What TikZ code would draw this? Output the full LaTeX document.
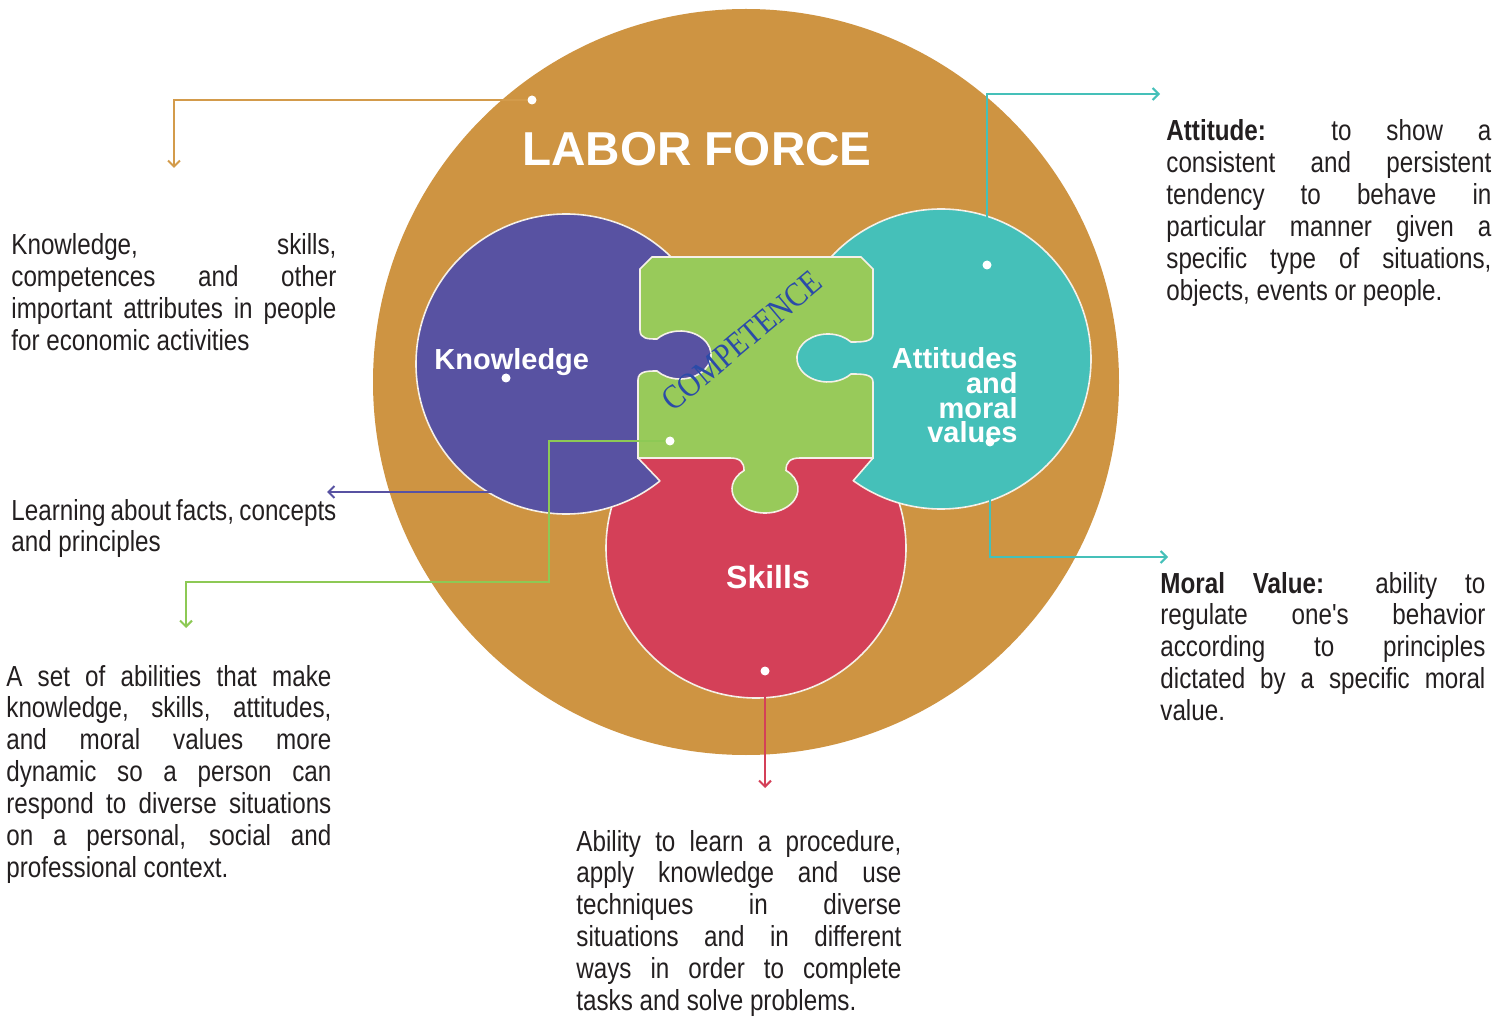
\documentclass[tikz,border=0pt]{standalone}
\usepackage{fontspec}
\setmainfont{Liberation Sans}
\newfontfamily\narrowsans{Liberation Sans}[FakeStretch=0.835]
\newfontfamily\timesfont{Liberation Serif}[FakeStretch=0.87]
\usetikzlibrary{arrows.meta}
\definecolor{laborcol}{RGB}{206,148,66}
\definecolor{laborline}{RGB}{211,155,75}
\definecolor{knowcol}{RGB}{88,82,162}
\definecolor{attcol}{RGB}{69,192,185}
\definecolor{skillcol}{RGB}{212,64,88}
\definecolor{compcol}{RGB}{152,202,90}
\definecolor{compline}{RGB}{141,201,85}
\definecolor{compblue}{RGB}{43,75,168}
\definecolor{rimwhite}{RGB}{245,240,232}
\definecolor{textdark}{RGB}{35,31,32}
\tolerance=10000
\hbadness=10000
\hyphenpenalty=10000
\tikzset{
  rim/.style={draw=rimwhite, line width=0.8pt},
  dot/.style={circle, fill=white, inner sep=0pt, minimum size=4.5pt},
  piecetext/.style={text=white, inner sep=0pt},
  note/.style={anchor=base west, inner sep=0pt, text width=162.5pt, align=justify,
    text=textdark, font=\narrowsans\fontsize{14.5}{15.95}\selectfont},
  link/.style={line width=1pt, -{Straight Barb[length=3pt,width=6pt]}},
}

\begin{document}
\begin{tikzpicture}[x=0.5pt,y=-0.5pt]
\useasboundingbox (0,0) rectangle (1510,1021);
\fill[laborcol] (746,382) circle[radius=373];
\filldraw[fill=skillcol,rim] (756,548) circle[radius=150];
\filldraw[fill=knowcol,rim] (566,364) circle[radius=150];
\filldraw[fill=attcol,rim] (941,359) circle[radius=150];
\fill[skillcol] (638,458) -- (660,481) -- (756,548) -- (853,481) -- (873,458) -- cycle;
\draw[rim] (638,458) -- (660,481) (853,481) -- (873,458);
\filldraw[fill=compcol,rim] (652,257) -- (861,257) -- (873,269) -- (873,334)
  .. controls (873,342) and (862,342) .. (851,342)
  arc[start angle=318.2,end angle=41.8,x radius=31,y radius=24]
  .. controls (862,374) and (873,374) .. (873,382) -- (873,458) -- (800,458)
  .. controls (790,458) and (786,462) .. (786,470.5)
  arc[start angle=309.5,end angle=590.5,x radius=33,y radius=24]
  .. controls (744,462) and (740,458) .. (730,458) -- (638,458) -- (638,380)
  .. controls (638,371) and (648,371) .. (657,371)
  arc[start angle=138.2,end angle=-138.2,x radius=31,y radius=24]
  .. controls (648,339) and (640,339) .. (640,330) -- (640,269) -- cycle;

\node[piecetext, anchor=base, font=\bfseries\fontsize{23.8}{24}\selectfont] (T) at (697,166) {LABOR FORCE};
\node[piecetext, anchor=base west, font=\bfseries\fontsize{14.5}{15}\selectfont] (K) at (434,370) {Knowledge};
\node[piecetext, anchor=base, font=\bfseries\fontsize{16}{16}\selectfont] (S) at (768,588) {Skills};
\node[piecetext, align=right, anchor=north east, font=\bfseries\fontsize{14.5}{12.4}\selectfont] (A) at (1018,347) {Attitudes\\and\\moral\\values};
\node[rotate=40, inner sep=0pt, text=compblue, font=\timesfont\fontsize{17}{17}\selectfont] (C) at (742,341) {COMPETENCE};

\node[dot] (D0) at (532,100) {};
\node[dot] (D1) at (506,378) {};
\node[dot] (D2) at (987,265) {};
\node[dot] (D3) at (670,441) {};
\node[dot] (D4) at (990,442) {};
\node[dot] (D5) at (765,671) {};
\coordinate (E0) at (174,168);
\coordinate (E1) at (327,492);
\coordinate (E2) at (1160,94);
\coordinate (B3) at (549,582);
\coordinate (E3) at (186,628);
\coordinate (E4) at (1168,557);
\coordinate (E5) at (765,788);
\draw[link, laborline] (D0) -| (E0);
\draw[link, knowcol] (D1) |- (E1);
\draw[link, attcol] (D2) |- (E2);
\draw[link, compline] (D3) -| (B3) -| (E3);
\draw[link, attcol] (D4) |- (E4);
\draw[link, skillcol] (D5) -- (E5);

\node[note] (N0) at (11,255) {Knowledge, skills,\linebreak competences and other\linebreak important attributes in people\linebreak for economic activities};
\node[note] (N1) at (11,520) {Learning about facts, concepts\linebreak and principles};
\node[note] (N2) at (6,686) {A set of abilities that make\linebreak knowledge, skills, attitudes,\linebreak and moral values more\linebreak dynamic so a person can\linebreak respond to diverse situations\linebreak on a personal, social and\linebreak professional context.};
\node[note] (N3) at (1166,141) {\textbf{Attitude:} to show a\linebreak consistent and persistent\linebreak tendency to behave in\linebreak particular manner given a\linebreak specific type of situations,\linebreak objects, events or people.};
\node[note] (N4) at (1160,593) {\textbf{Moral Value:} ability to\linebreak regulate one's behavior\linebreak according to principles\linebreak dictated by a specific moral\linebreak value.};
\node[note] (N5) at (576,851) {Ability to learn a procedure,\linebreak apply knowledge and use\linebreak techniques in diverse\linebreak situations and in different\linebreak ways in order to complete\linebreak tasks and solve problems.};
\end{tikzpicture}
\end{document}
